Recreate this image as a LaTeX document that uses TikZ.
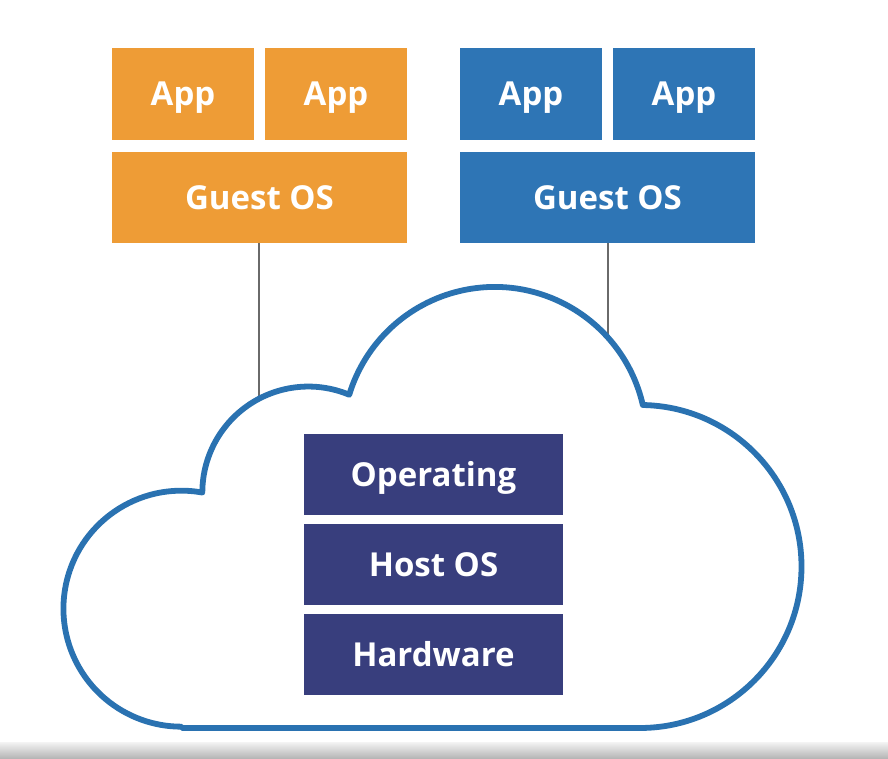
\documentclass[tikz,border=0pt]{standalone}
\usepackage{fontspec}
\setmainfont{Open Sans}
\definecolor{orangebox}{HTML}{EE9C36}
\definecolor{bluebox}{HTML}{2E75B5}
\definecolor{navybox}{HTML}{383E7D}
\definecolor{cloudblue}{HTML}{2A72B1}
\definecolor{linkgray}{HTML}{6A6A6A}
\tikzset{
  box/.style={inner sep=0pt, text=white, font=\fontsize{33}{36}\selectfont\bfseries,
    text height=23.5pt, text depth=0pt},
  appbox/.style={box, minimum width=142pt, minimum height=92pt},
  guestbox/.style={box, minimum width=295pt, minimum height=91pt},
  hostbox/.style={box, fill=navybox, minimum width=259pt, minimum height=81pt},
  link/.style={draw=linkgray, line width=2.2pt},
  cloudline/.style={draw=cloudblue, line width=5.8pt, line join=round}
}
\begin{document}
\begin{tikzpicture}[x=1pt,y=1pt]
\useasboundingbox (0,0) rectangle (888,759);
\fill[white] (0,0) rectangle (888,759);
\shade[top color=gray!12, bottom color=gray!60] (0,0) rectangle (888,16);
% top stacks
\node[appbox, fill=orangebox] (oapp1) at (183,665) {App};
\node[appbox, fill=orangebox] (oapp2) at (336,665) {App};
\node[guestbox, fill=orangebox] (oguest) at (259.5,561.5) {Guest OS};
\node[appbox, fill=bluebox] (bapp1) at (531,665) {App};
\node[appbox, fill=bluebox] (bapp2) at (684,665) {App};
\node[guestbox, fill=bluebox] (bguest) at (607.5,561.5) {Guest OS};
% connection points on the cloud
\coordinate (cl) at (259,359.5);
\coordinate (cr) at (608,422);
\draw[link] (oguest.south -| cl) -- (cl);
\draw[link] (bguest.south -| cr) -- (cr);
% cloud
\draw[cloudline] (182,31) -- (640,31)
  arc[start angle=-90, end angle=89, radius=161.5]
  arc[start angle=12.9, end angle=163.1, radius=152]
  arc[start angle=67.3, end angle=180, radius=106]
  arc[start angle=79.8, end angle=270, radius=118] -- cycle;
% host stack
\node[hostbox] (op) at (433.5,284.5) {Operating};
\node[hostbox] (host) at (433.5,194.5) {Host OS};
\node[hostbox] (hw) at (433.5,104.5) {Hardware};
\end{tikzpicture}
\end{document}
